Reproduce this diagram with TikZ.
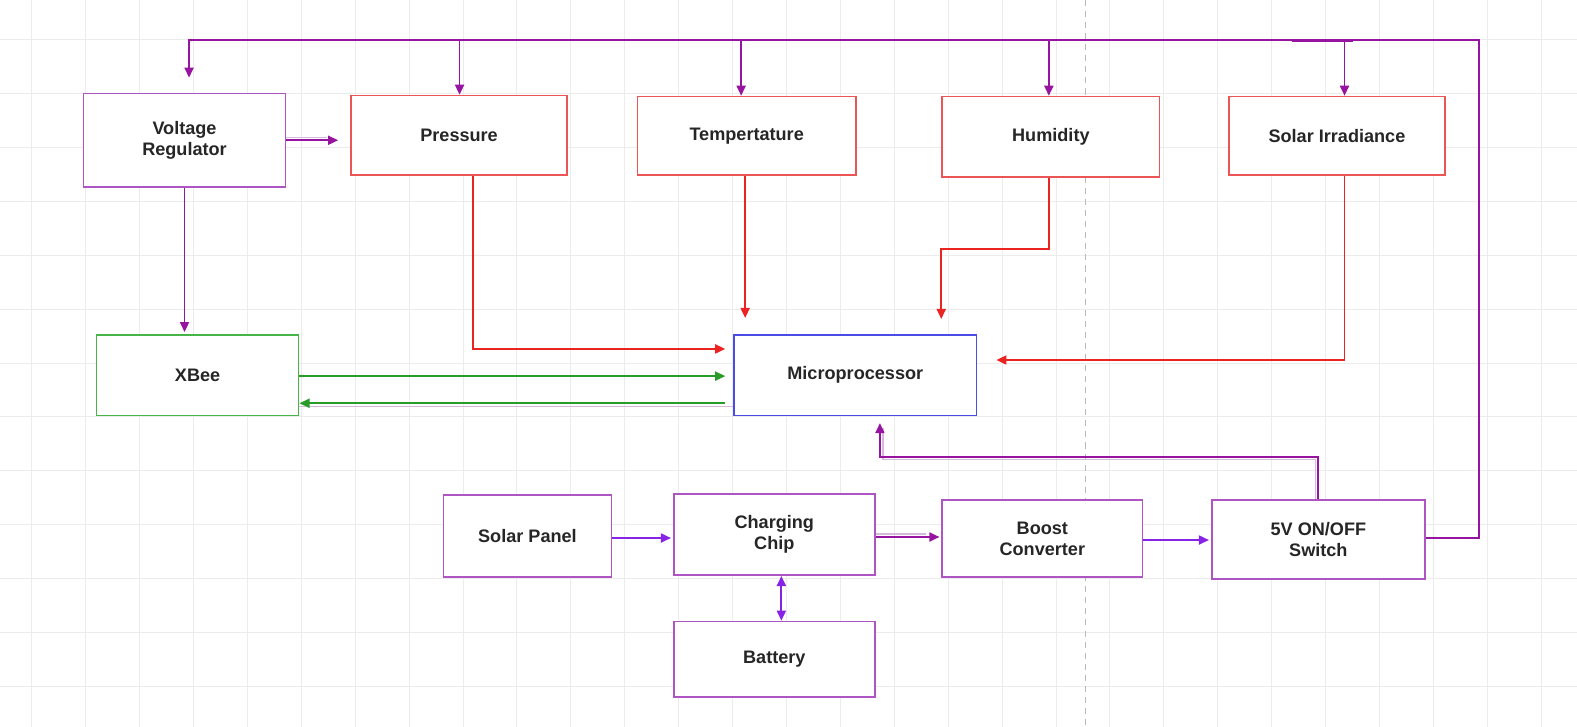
\documentclass[tikz,border=0pt]{standalone}
\usepackage{fontspec}
\setmainfont{Liberation Sans}
\usetikzlibrary{arrows.meta,calc}
\definecolor{buspurple}{RGB}{150,20,160}
\definecolor{boxpurple}{RGB}{175,85,195}
\definecolor{boxred}{RGB}{235,85,85}
\definecolor{arrred}{RGB}{235,35,35}
\definecolor{boxgreen}{RGB}{70,180,70}
\definecolor{arrgreen}{RGB}{40,155,40}
\definecolor{boxblue}{RGB}{75,75,230}
\definecolor{violet}{RGB}{135,35,230}
\definecolor{gridgray}{RGB}{236,236,236}
\definecolor{ghost}{RGB}{215,185,222}
\tikzset{
  gridline/.style={draw=gridgray, line width=0.5pt},
  dashline/.style={draw=gray!55, line width=0.5pt, dash pattern=on 3pt off 2.5pt},
  blk/.style={draw, fill=white, line width=0.8pt, align=center, inner sep=0pt,
    font=\fontsize{9}{10.4}\selectfont\bfseries, text=black!85},
  pbox/.style={blk, draw=boxpurple},
  rbox/.style={blk, draw=boxred},
  gbox/.style={blk, draw=boxgreen},
  bbox/.style={blk, draw=boxblue},
  tip/.style={-{Triangle[length=5pt,width=4.5pt]}},
  busline/.style={draw=buspurple, line width=0.9pt},
  pa/.style={busline, tip},
  va/.style={draw=violet, line width=0.9pt, tip},
  ra/.style={draw=arrred, line width=0.9pt, tip},
  ga/.style={draw=arrgreen, line width=0.9pt, tip},
  shadowline/.style={draw=ghost, line width=0.7pt},
}
\begin{document}
\begin{tikzpicture}[x=0.5pt,y=-0.5pt]
\useasboundingbox (0,0) rectangle (1568.2,722.9);
\fill[white] (0,0) rectangle (1568.2,722.9);
\foreach \k in {0,...,29} \draw[gridline] ({31.7+53.6*\k},0) -- ({31.7+53.6*\k},727);
\foreach \k in {0,...,12} \draw[gridline] (0,{39.4+53.6*\k}) -- (1577,{39.4+53.6*\k});
\draw[dashline] (1079,0) -- (1079,727);

% nodes
\node[pbox, minimum width=100.5pt, minimum height=46.5pt] (vr) at (183.5,139.5) {Voltage\\Regulator};
\node[rbox, minimum width=107.5pt, minimum height=39.5pt] (pres) at (456.5,134.5) {Pressure};
\node[rbox, minimum width=108.5pt, minimum height=39pt] (temp) at (742.5,135) {Tempertature};
\node[rbox, minimum width=108pt, minimum height=40pt] (hum) at (1045,136) {Humidity};
\node[rbox, minimum width=107.5pt, minimum height=39pt] (sol) at (1329.5,135) {Solar Irradiance};
\node[gbox, minimum width=100.5pt, minimum height=40pt] (xbee) at (196.5,373) {XBee};
\node[bbox, minimum width=120.5pt, minimum height=40pt] (micro) at (850.5,373) {Microprocessor};
\node[pbox, minimum width=83.5pt, minimum height=41pt] (sp) at (524.5,533) {Solar Panel};
\node[pbox, minimum width=100pt, minimum height=40.5pt] (ch) at (770,531.5) {Charging\\Chip};
\node[pbox, minimum width=99.5pt, minimum height=38.5pt] (bc) at (1036.5,535.5) {Boost\\Converter};
\node[pbox, minimum width=106pt, minimum height=39.5pt] (sw) at (1311,536.5) {5V ON/OFF\\Switch};
\node[pbox, minimum width=100pt, minimum height=37.5pt] (bat) at (770,655.5) {Battery};

% faint doubled segments
\draw[shadowline] ($(vr.east)+(0,-3)$) -- ($(vr.east)+(40,-3)$);
\draw[shadowline] ($(ch.east)+(0,-0.5)$) -- ($(ch.east)+(50,-0.5)$);
\draw[shadowline] ($(micro.west)+(0,31)$) -- ($(xbee.east)+(0,31)$);
\draw[shadowline] ($(sw.north)+(-3,0)$) -- ++(0,-39) -| ($(micro.south)+(27.5,12)$);
\draw[draw=buspurple, line width=1.4pt] (1285,40) -- (1345,40);

% power bus
\coordinate (busR) at (1471,40);
\coordinate (busL) at (188,40);
\draw[pa, shorten >=7.5pt] ($(sw.east)+(0,-1.5)$) -| (busR) -- (busL) -- ($(vr.north)+(4.5,0)$);
\draw[pa] ($(busL -| pres.north)+(0.5,0)$) -- ($(pres.north)+(0.5,0)$);
\draw[pa] ($(busL -| temp.north)+(-5.5,0)$) -- ($(temp.north)+(-5.5,0)$);
\draw[pa] ($(busL -| hum.north)+(-2,0)$) -- ($(hum.north)+(-2,0)$);
\draw[pa] ($(busL -| sol.north)+(7.5,0)$) -- ($(sol.north)+(7.5,0)$);

% regulator outputs
\draw[pa, shorten >=6pt] (vr.east) -- (vr.east -| pres.west);
\draw[pa, shorten >=1pt] (vr.south) -- (vr.south |- xbee.north);

% sensors to microprocessor
\draw[ra, shorten >=4pt] ($(pres.south)+(13.5,0)$) |- ($(micro.west)+(0,-26)$);
\draw[ra, shorten >=8pt] ($(temp.south)+(-1.5,0)$) -- ($(micro.north)+(-109.5,0)$);
\draw[ra, shorten >=7.5pt] ($(hum.south)+(-2,0)$) -- ++(0,71) -| ($(micro.north)+(85.5,0)$);
\draw[ra, shorten >=9.5pt] ($(sol.south)+(7.5,0)$) |- ($(micro.east)+(0,-15)$);

% xbee link
\draw[ga, shorten >=4pt] ($(xbee.east)+(0,1)$) -- ($(micro.west)+(0,1)$);
\draw[ga, shorten <=4pt] ($(micro.west)+(0,28)$) -- ($(xbee.east)+(0,28)$);

% switch to microprocessor
\draw[pa, shorten >=3.5pt] (sw.north) -- ++(0,-42) -| ($(micro.south)+(24.5,0)$);

% power chain
\draw[va, shorten >=1pt] ($(sp.east)+(0,2)$) -- ($(sp.east -| ch.west)+(0,2)$);
\draw[pa, shorten >=1pt] ($(ch.east)+(0,2.5)$) -- ($(ch.east -| bc.west)+(0,2.5)$);
\draw[va, shorten >=1pt] ($(bc.east)+(0,1.5)$) -- ($(bc.east -| sw.west)+(0,1.5)$);
\draw[va, {Triangle[length=5pt,width=4.5pt]}-{Triangle[length=5pt,width=4.5pt]}] ($(ch.south)+(7,0)$) -- ($(bat.north)+(7,0)$);
\end{tikzpicture}
\end{document}
